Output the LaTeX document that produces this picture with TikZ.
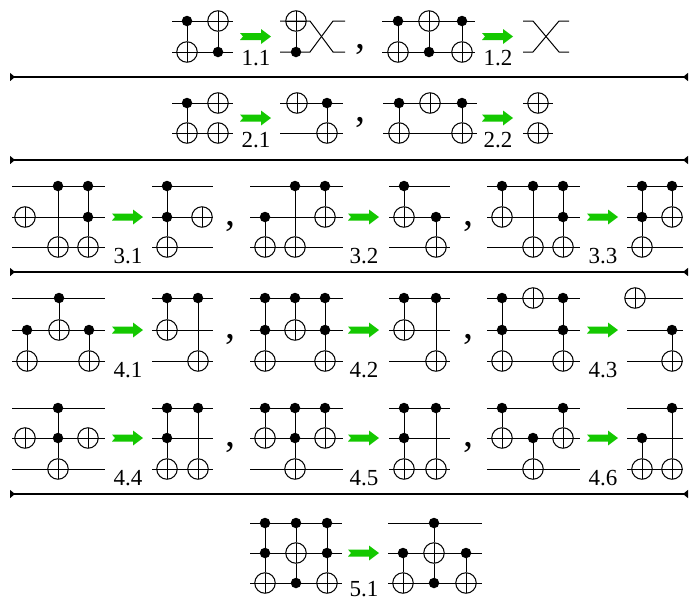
\documentclass[tikz,border=0pt]{standalone}
\usepackage{fontspec}
\setmainfont{Liberation Serif}
\usepackage{tikz}
\usetikzlibrary{arrows.meta,calc,positioning}
\definecolor{rwgreen}{RGB}{20,200,0}

\tikzset{
  wire/.style={line width=1pt},
  ctrl/.style={circle,fill=black,minimum size=10.5pt,inner sep=0pt},
  targ/.style={circle,draw,line width=1pt,minimum size=20.5pt,inner sep=0pt,
    path picture={\draw[line width=1pt] (path picture bounding box.north) -- (path picture bounding box.south)
      (path picture bounding box.west) -- (path picture bounding box.east);}},
  rulelabel/.style={font=\fontsize{23}{26}\selectfont,inner sep=0pt,anchor=base},
  sepline/.style={line width=1.4pt,{Triangle[reversed,length=5pt,width=8pt]}-{Triangle[reversed,length=5pt,width=8pt]}},
  commanode/.style={font=\fontsize{40}{42}\selectfont,anchor=base,inner sep=0pt}
}

% wires of one circuit: x from, x to, list of y
\newcommand{\qwires}[3]{\foreach \wy in {#3} \draw[wire] (#1,\wy) -- (#2,\wy);}
% cnot: x, control y, target y, name
\newcommand{\cnot}[4]{%
  \node[ctrl] (#4c) at (#1,#2) {};
  \node[targ] (#4t) at (#1,#3) {};
  \draw[wire] (#4c) -- (#4t);}
% toffoli: x, control y, control y, target y, name
\newcommand{\toff}[5]{%
  \node[ctrl] (#5a) at (#1,#2) {};
  \node[ctrl] (#5b) at (#1,#3) {};
  \node[targ] (#5t) at (#1,#4) {};
  \draw[wire] (#5a) -- (#5b) -- (#5t);}
% not: x, y, name
\newcommand{\notg}[3]{\node[targ] (#3) at (#1,#2) {};}
% rewrite arrow: x, y, label baseline, label, name
\newcommand{\rewrite}[5]{%
  \fill[rwgreen,shift={(#1,#2)}] (0,-3.5) -- (21,-3.5) -- (21,-7.5) -- (31,0) -- (21,7.5) -- (21,3.5) -- (0,3.5) -- (3,0) -- cycle;
  \node[rulelabel] (#5) at (#1+16,#3) {#4};}

\begin{document}
\begin{tikzpicture}[x=1pt,y=-1pt]
\useasboundingbox (0,0) rectangle (694,600);

% 1.1 and 1.2
\qwires{172}{233}{21,52}
\cnot{187}{21}{52}{pa}
\cnot{218}{52}{21}{pb}
\rewrite{240}{36.5}{65}{1.1}{r11}
\draw[wire] (280,21) -- (310,21) -- (333,52) -- (345,52);
\draw[wire] (280,52) -- (310,52) -- (333,21) -- (345,21);
\cnot{296}{52}{21}{pc}
\node[commanode] (k1) at (360,48) {,};
\qwires{382}{475}{21,52}
\cnot{398}{21}{52}{pd}
\cnot{429}{52}{21}{pe}
\cnot{462}{21}{52}{pf}
\rewrite{482}{36.5}{65}{1.2}{r12}
\draw[wire] (523,21) -- (533,21) -- (559,52) -- (569,52);
\draw[wire] (523,52) -- (533,52) -- (559,21) -- (569,21);

\coordinate (s1l) at (10,77);
\coordinate (s1r) at (688,77);
\draw[sepline] (s1l) -- (s1r);

% 2.1 and 2.2
\qwires{172}{233}{103,133}
\cnot{187}{103}{133}{qa}
\notg{218}{103}{qb}
\notg{218}{133}{qc}
\rewrite{240}{118}{147}{2.1}{r21}
\qwires{280}{343}{103,133}
\notg{297}{103}{qd}
\cnot{327}{103}{133}{qe}
\node[commanode] (k2) at (360,121) {,};
\qwires{383}{477}{103,133}
\cnot{399}{103}{133}{qf}
\notg{430}{103}{qg}
\cnot{462}{103}{133}{qh}
\rewrite{482}{118}{147}{2.2}{r22}
\qwires{523}{553}{103,133}
\notg{538}{103}{qi}
\notg{538}{133}{qj}

\coordinate (s2l) at (10,160);
\coordinate (s2r) at (688,160);
\draw[sepline] (s2l) -- (s2r);

% 3.1, 3.2, 3.3
\qwires{12}{105}{186,217,247}
\notg{25}{217}{ta}
\cnot{58}{186}{247}{tb}
\toff{88}{186}{217}{247}{tc}
\rewrite{112}{217}{263}{3.1}{r31}
\qwires{152}{213}{186,217,247}
\toff{167}{186}{217}{247}{td}
\notg{202}{217}{te}
\node[commanode] (k3) at (230,225) {,};
\qwires{250}{343}{186,217,247}
\cnot{265}{217}{247}{tf}
\cnot{295}{186}{247}{tg}
\cnot{325}{186}{217}{th}
\rewrite{348}{217}{263}{3.2}{r32}
\qwires{389}{450}{186,217,247}
\cnot{404}{186}{217}{ti}
\cnot{436}{217}{247}{tj}
\node[commanode] (k4) at (468,225) {,};
\qwires{487}{580}{186,217,247}
\cnot{502}{186}{217}{tk}
\cnot{533}{186}{247}{tl}
\toff{563}{186}{217}{247}{tm}
\rewrite{587}{217}{263}{3.3}{r33}
\qwires{627}{683}{186,217,247}
\toff{642}{186}{217}{247}{tn}
\cnot{672}{186}{217}{to}

\coordinate (s3l) at (10,272);
\coordinate (s3r) at (688,272);
\draw[sepline] (s3l) -- (s3r);

% 4.1, 4.2, 4.3
\qwires{12}{105}{298,330,361}
\cnot{27}{330}{361}{ua}
\cnot{59}{298}{330}{ub}
\cnot{89}{330}{361}{uc}
\rewrite{112}{330}{377}{4.1}{r41}
\qwires{152}{213}{298,330,361}
\cnot{167}{298}{330}{ud}
\cnot{198}{298}{361}{ue}
\node[commanode] (k5) at (230,338) {,};
\qwires{250}{343}{298,330,361}
\toff{265}{298}{330}{361}{uf}
\cnot{295}{298}{330}{ug}
\toff{325}{298}{330}{361}{uh}
\rewrite{348}{330}{377}{4.2}{r42}
\qwires{389}{450}{298,330,361}
\cnot{404}{298}{330}{ui}
\cnot{436}{298}{361}{uj}
\node[commanode] (k6) at (468,338) {,};
\qwires{487}{580}{298,330,361}
\toff{502}{298}{330}{361}{uk}
\notg{533}{298}{ul}
\toff{563}{298}{330}{361}{um}
\rewrite{587}{330}{377}{4.3}{r43}
\qwires{627}{683}{298,330,361}
\notg{635}{298}{un}
\cnot{672}{330}{361}{uo}

% 4.4, 4.5, 4.6
\qwires{12}{105}{408,438,469}
\notg{25}{438}{va}
\toff{58}{408}{438}{469}{vb}
\notg{88}{438}{vc}
\rewrite{112}{438}{485}{4.4}{r44}
\qwires{152}{213}{408,438,469}
\toff{167}{408}{438}{469}{vd}
\cnot{198}{408}{469}{ve}
\node[commanode] (k7) at (230,446) {,};
\qwires{250}{343}{408,438,469}
\cnot{265}{408}{438}{vf}
\toff{295}{408}{438}{469}{vg}
\cnot{325}{408}{438}{vh}
\rewrite{348}{438}{485}{4.5}{r45}
\qwires{389}{450}{408,438,469}
\toff{404}{408}{438}{469}{vi}
\cnot{436}{408}{469}{vj}
\node[commanode] (k8) at (468,446) {,};
\qwires{487}{580}{408,438,469}
\cnot{502}{408}{438}{vk}
\cnot{533}{438}{469}{vl}
\cnot{563}{408}{438}{vm}
\rewrite{587}{438}{485}{4.6}{r46}
\qwires{627}{683}{408,438,469}
\cnot{642}{438}{469}{vn}
\cnot{672}{408}{469}{vo}

\coordinate (s4l) at (10,494);
\coordinate (s4r) at (688,494);
\draw[sepline] (s4l) -- (s4r);

% 5.1
\qwires{250}{342}{523,553,583}
\toff{265}{523}{553}{583}{wa}
\node[ctrl] (wbc) at (296,523) {};
\node[targ] (wbt) at (296,553) {};
\node[ctrl] (wbd) at (296,583) {};
\draw[wire] (wbc) -- (wbt) -- (wbd);
\toff{327}{523}{553}{583}{wc}
\rewrite{348}{553}{596}{5.1}{r51}
\qwires{388}{482}{523,553,583}
\cnot{403}{553}{583}{wd}
\node[ctrl] (wec) at (434,523) {};
\node[targ] (wet) at (434,553) {};
\node[ctrl] (wed) at (434,583) {};
\draw[wire] (wec) -- (wet) -- (wed);
\cnot{466}{553}{583}{wf}
\end{tikzpicture}
\end{document}
